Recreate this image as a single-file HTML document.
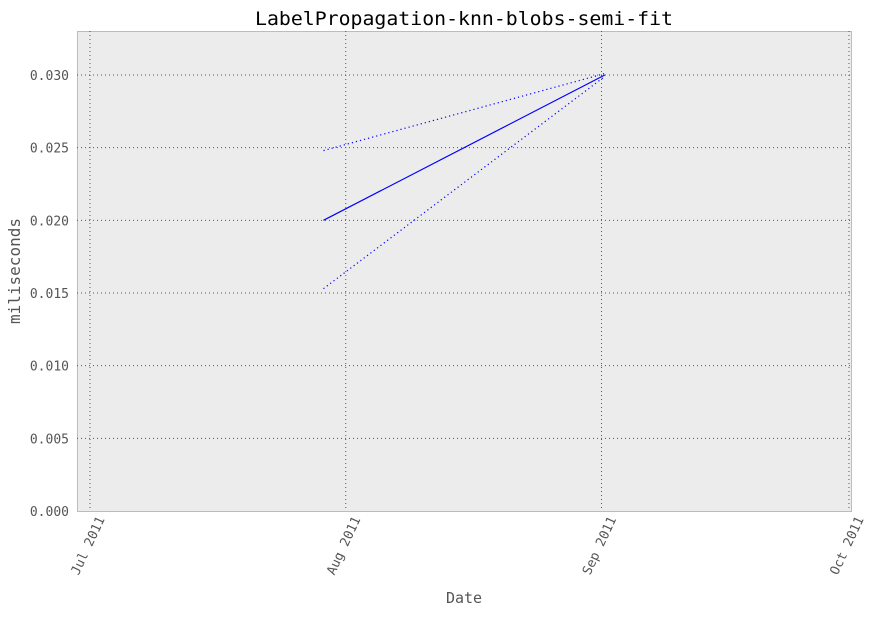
<!DOCTYPE html>
<html><head><meta charset="utf-8"><style>
body{margin:0;background:#fff;}
svg text{font-family:"DejaVu Sans Mono","Liberation Mono",monospace;}
</style></head><body>
<svg id="chart" width="875" height="613" xmlns="http://www.w3.org/2000/svg">
<rect x="77.5" y="31.5" width="774" height="480" fill="#ececec" stroke="#bcbcbc" stroke-width="1"/>
<g id="grid"></g><g id="series"></g><g id="ticks"></g>
<text x="464" y="25" text-anchor="middle" font-size="19" fill="#000" textLength="418" lengthAdjust="spacingAndGlyphs">LabelPropagation-knn-blobs-semi-fit</text>
<text x="464" y="603" text-anchor="middle" font-size="15" fill="#555">Date</text>
<text transform="translate(20,271) rotate(-90)" text-anchor="middle" font-size="16" fill="#555">miliseconds</text>
</svg>
<script>
const xTickDays=[0,31,62,92];
const xTickLabels=["Jul 2011","Aug 2011","Sep 2011","Oct 2011"];
const yTicks=[0,0.005,0.010,0.015,0.020,0.025,0.030];
const yTickLabels=["0.000","0.005","0.010","0.015","0.020","0.025","0.030"];
const dates=[28.3,62.4];
const meanVals=[0.0200,0.0300];
const upperVals=[0.0248,0.0301];
const lowerVals=[0.0153,0.0299];
const NS="http://www.w3.org/2000/svg";
function xs(d){return 90+(849-90)*d/92;}
function ys(v){return 511-v*(511-75)/0.030;}
const grid=document.getElementById('grid'),ser=document.getElementById('series'),tk=document.getElementById('ticks');
function mk(tag,attrs,parent){const e=document.createElementNS(NS,tag);for(const k in attrs)e.setAttribute(k,attrs[k]);parent.appendChild(e);return e;}
xTickDays.forEach((d,i)=>{
 const x=xs(d);
 const g=mk('line',{x1:x,x2:x,y1:31,y2:511,stroke:'#555','stroke-dasharray':'1,3','stroke-width':1},grid);
 
 
 const t=mk('text',{transform:`translate(${x+15},${519}) rotate(-65)`,'text-anchor':'end','font-size':13,fill:'#555'},tk);
 t.textContent=xTickLabels[i];
 
 
});
yTicks.forEach((v,i)=>{
 const y=ys(v);
 if(v>0){const g=mk('line',{x1:77,x2:851,y1:y,y2:y,stroke:'#555','stroke-dasharray':'1,3','stroke-width':1},grid);
 
 }
 const t=mk('text',{x:69,y:y+5,'text-anchor':'end','font-size':13,fill:'#555'},tk);
 t.textContent=yTickLabels[i];
 
 
});
function pts(vals){return dates.map((d,i)=>xs(d)+','+ys(vals[i])).join(' ');}
const m=mk('polyline',{points:pts(meanVals),fill:'none',stroke:'#0000ff','stroke-width':1.2},ser);


const u=mk('polyline',{points:pts(upperVals),fill:'none',stroke:'#0000ff','stroke-width':1.2,'stroke-dasharray':'1.2,3'},ser);


const l=mk('polyline',{points:pts(lowerVals),fill:'none',stroke:'#0000ff','stroke-width':1.2,'stroke-dasharray':'1.2,3'},ser);


</script>
</body></html>
